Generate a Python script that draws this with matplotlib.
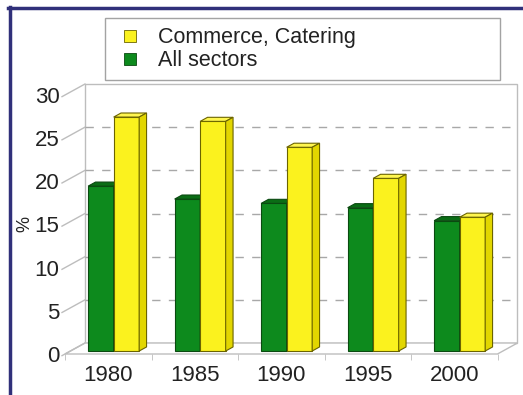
import matplotlib
matplotlib.use("Agg")
import matplotlib.pyplot as plt
from matplotlib.patches import Polygon, Rectangle
from matplotlib.lines import Line2D

plt.rcParams["font.family"] = ["Liberation Sans", "DejaVu Sans"]

years = ["1980", "1985", "1990", "1995", "2000"]
all_sectors = [19.1, 17.6, 17.1, 16.6, 15.1]
commerce = [27.1, 26.6, 23.6, 20.0, 15.5]
yticks = [0, 5, 10, 15, 20, 25, 30]

GREEN, GREEN_TOP, GREEN_EDGE = "#0d8a1d", "#0a6d15", "#0a4a10"
YELLOW, YELLOW_TOP, YELLOW_SIDE, YELLOW_EDGE = "#fbf21e", "#fff650", "#e2d600", "#6b6400"
WALL = "#bdbdbd"

# fake 3D: depth offset of the back wall in data units
DX, DY = 0.231, 1.274
D0, D1 = 0.27, 0.64      # front/back depth of the bars
W = 0.295                # bar width

W_PX, H_PX = 523, 395
fig = plt.figure(figsize=(W_PX / 100, H_PX / 100), dpi=100)
ax = fig.add_axes([65 / W_PX, 1 - 354 / H_PX, 432.5 / W_PX, 259 / H_PX])
ax.set_xlim(-0.5, 4.5)
ax.set_ylim(0, 30)
for s in ax.spines.values():
    s.set_visible(False)


def proj(x, y, d):
    return (x + d * DX, y + d * DY)


def box(x0, x1, h, front, top, side, edge, z):
    faces = [
        ([proj(x0, 0, D0), proj(x1, 0, D0), proj(x1, h, D0), proj(x0, h, D0)], front),
        ([proj(x0, h, D0), proj(x1, h, D0), proj(x1, h, D1), proj(x0, h, D1)], top),
        ([proj(x1, 0, D0), proj(x1, h, D0), proj(x1, h, D1), proj(x1, 0, D1)], side),
    ]
    for pts, c in faces:
        ax.add_patch(Polygon(pts, closed=True, facecolor=c, edgecolor=edge,
                             linewidth=0.8, zorder=z, clip_on=False))


# back wall and floor
ax.add_patch(Rectangle((-0.5 + DX, DY), 5, 30, facecolor="white", edgecolor=WALL,
                       linewidth=1.0, zorder=1, clip_on=False))
ax.add_patch(Polygon([(-0.5, 0), (4.5, 0), (4.5 + DX, DY), (-0.5 + DX, DY)], closed=True,
                     facecolor="white", edgecolor=WALL, linewidth=1.0, zorder=1, clip_on=False))

for v in yticks:
    # left wall diagonals
    ax.plot([-0.5 - 0.15 * DX, -0.5 + DX], [v - 0.15 * DY, v + DY], color=WALL,
            linewidth=1.0, zorder=1, clip_on=False)
    if 0 < v < 30:
        ax.plot([-0.5 + DX, 4.5 + DX], [v + DY, v + DY], color="#a8a8a8", linewidth=1.0,
                dashes=(6, 6), zorder=1, clip_on=False)

for i in range(len(years)):
    box(i - W, i, all_sectors[i], GREEN, GREEN_TOP, GREEN, GREEN_EDGE, 3)
    box(i, i + W, commerce[i], YELLOW, YELLOW_TOP, YELLOW_SIDE, YELLOW_EDGE, 4)

ax.set_xticks(range(len(years)))
ax.set_xticklabels(years)
ax.set_xticks([k - 0.5 for k in range(len(years) + 1)], minor=True)
ax.tick_params(axis="x", which="major", length=0, pad=8, labelsize=16, labelcolor="#222222")
ax.tick_params(axis="x", which="minor", length=4, color=WALL, direction="out")
ax.set_yticks(yticks)
ax.tick_params(axis="y", length=0, pad=4, labelsize=16, labelcolor="#222222")
ax.set_ylabel("%", fontsize=13, color="#222222", labelpad=1)

handles = [
    Line2D([], [], linestyle="none", marker="s", markersize=8.8, markerfacecolor=YELLOW,
           markeredgecolor=YELLOW_EDGE, markeredgewidth=0.6, label="Commerce, Catering"),
    Line2D([], [], linestyle="none", marker="s", markersize=8.8, markerfacecolor=GREEN,
           markeredgecolor=GREEN_EDGE, markeredgewidth=0.6, label="All sectors"),
]
leg = fig.legend(handles=handles, loc="upper left",
                 bbox_to_anchor=(105 / W_PX, 1 - 18 / H_PX - 0.01, 395 / W_PX, 0.01),
                 mode="expand", fontsize=15.5, frameon=True, fancybox=False, borderpad=0.42,
                 labelspacing=0.1, handlelength=1.5, handletextpad=0.55, borderaxespad=0)
leg.get_frame().set_edgecolor("#8c8c8c")
leg.get_frame().set_linewidth(1.0)
for t in leg.get_texts():
    t.set_color("#222222")

# outer frame on the left and top
fig.add_artist(Line2D([9.5 / W_PX, 9.5 / W_PX], [0, 1 - 7 / H_PX], color="#30307a",
                      linewidth=2.5, transform=fig.transFigure))
fig.add_artist(Line2D([8 / W_PX, 1], [1 - 8 / H_PX, 1 - 8 / H_PX], color="#30307a",
                      linewidth=2.5, transform=fig.transFigure))

fig.savefig("out.png", dpi=100)
